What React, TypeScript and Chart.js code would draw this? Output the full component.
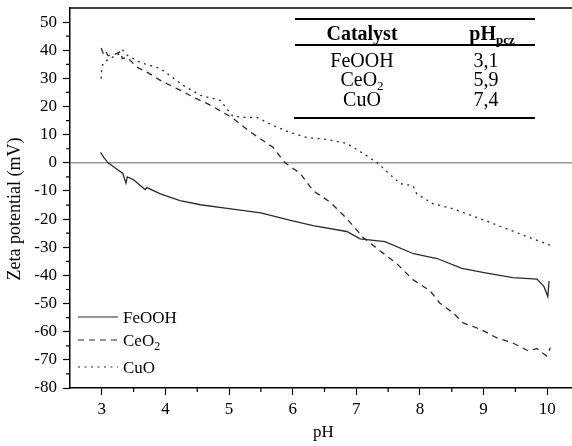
import { useEffect, useRef } from "react";
import { Chart, registerables } from "chart.js";
Chart.register(...registerables);

const FONT = "'Liberation Serif', 'Times New Roman', serif";

// FeOOH series (pH, zeta mV)
const FEOOH_PH = [2.98, 3.03, 3.1, 3.2, 3.33, 3.38, 3.4, 3.5, 3.68, 3.71, 3.92, 4.23, 4.55, 5.0, 5.5, 5.95, 6.32, 6.85, 7.06, 7.45, 7.9, 8.27, 8.66, 9.05, 9.46, 9.84, 9.95, 10.01, 10.03];
const FEOOH_ZETA = [3.7, 1.9, 0, -1.7, -3.8, -7.2, -5, -6, -9.5, -8.8, -11, -13.4, -14.9, -16.3, -17.8, -20.4, -22.3, -24.4, -27, -28, -32.3, -34, -37.5, -39.2, -40.8, -41.3, -44, -47.5, -42];

// CeO2 series
const CEO2_PH = [2.99, 3.02, 3.05, 3.1, 3.2, 3.3, 3.32, 3.4, 3.55, 3.71, 3.92, 4.23, 4.44, 4.66, 4.91, 5.07, 5.3, 5.69, 5.88, 6.12, 6.32, 6.59, 6.85, 7.11, 7.37, 7.64, 7.89, 8.16, 8.31, 8.52, 8.68, 8.94, 9.21, 9.46, 9.7, 9.84, 9.99, 10.05];
const CEO2_ZETA = [40.8, 39, 40, 38, 38.5, 39.5, 37, 37.5, 34, 32.2, 29.3, 25.8, 23.3, 21, 17.9, 15.7, 11.5, 5.5, 0, -3.8, -9.9, -14, -19.8, -26.6, -31.2, -35.9, -41.5, -45.5, -49.8, -53.3, -56.9, -59, -62.2, -64, -66.8, -66, -68.6, -65.7];

// CuO series
const CUO_PH = [2.99, 3.0, 3.03, 3.13, 3.29, 3.33, 3.4, 3.6, 3.92, 4.28, 4.55, 4.86, 5.06, 5.28, 5.44, 5.69, 5.96, 6.22, 6.54, 6.85, 7.11, 7.33, 7.58, 7.69, 7.89, 7.95, 8.2, 8.52, 8.94, 9.36, 9.73, 10.07];
const CUO_ZETA = [29.9, 34, 35.7, 37.1, 38.9, 40, 38.2, 35.7, 33.5, 27.5, 24, 22.2, 16.5, 16.1, 16.1, 13.3, 10.8, 9, 8.3, 6.9, 3.3, 0, -5.2, -7.4, -8.1, -11, -14.5, -16.3, -19.8, -23.4, -26.6, -29.5];

const X_TICKS = [3, 4, 5, 6, 7, 8, 9, 10];
const Y_TICKS = [-80, -70, -60, -50, -40, -30, -20, -10, 0, 10, 20, 30, 40, 50];

const X_TITLE = "pH";
const Y_TITLE = "Zeta potential (mV)";

const SERIES_NAMES = ["FeOOH", "CeO", "CuO"];
const SERIES_SUBS = ["", "2", ""];

const TABLE_HEAD = ["Catalyst", "pH"];
const TABLE_HEAD_SUB = "pcz";
const TABLE_CATALYST = ["FeOOH", "CeO", "CuO"];
const TABLE_CATALYST_SUB = ["", "2", ""];
const TABLE_PHPCZ = ["3,1", "5,9", "7,4"];

const LINE_COLOR = "#2b2b2b";
const DASHES: number[][] = [[], [6, 5], [2, 4.5]];

function toPoints(xs: number[], ys: number[]) {
  return xs.map((x, i) => ({ x, y: ys[i] }));
}

function midpoints(ticks: number[]) {
  const out: number[] = [];
  for (let i = 0; i < ticks.length - 1; i++) out.push((ticks[i] + ticks[i + 1]) / 2);
  return out;
}

function drawSubText(ctx: CanvasRenderingContext2D, main: string, sub: string, x: number, y: number, size: number, bold: boolean, subSize: number, align: "left" | "center") {
  const w = bold ? "bold " : "";
  ctx.font = `${w}${size}px ${FONT}`;
  const mw = ctx.measureText(main).width;
  ctx.font = `${w}${subSize}px ${FONT}`;
  const sw = sub ? ctx.measureText(sub).width : 0;
  let sx = x;
  if (align === "center") sx = x - (mw + sw) / 2;
  ctx.textAlign = "left";
  ctx.textBaseline = "alphabetic";
  ctx.font = `${w}${size}px ${FONT}`;
  ctx.fillText(main, sx, y);
  if (sub) {
    ctx.font = `${w}${subSize}px ${FONT}`;
    ctx.fillText(sub, sx + mw, y + size * 0.22);
  }
}

const overlay = {
  id: "overlay",
  beforeDatasetsDraw(chart: any) {
    const { ctx, chartArea, scales } = chart;
    const y0 = scales.y.getPixelForValue(0);
    ctx.save();
    ctx.strokeStyle = "#6a6a6a";
    ctx.lineWidth = 1;
    ctx.beginPath();
    ctx.moveTo(chartArea.left, y0);
    ctx.lineTo(chartArea.right, y0);
    ctx.stroke();
    ctx.restore();
  },
  afterDraw(chart: any) {
    const { ctx, chartArea, scales } = chart;
    ctx.save();
    // top border
    ctx.strokeStyle = "#000";
    ctx.lineWidth = 1.5;
    ctx.beginPath();
    ctx.moveTo(chartArea.left, chartArea.top);
    ctx.lineTo(chartArea.right, chartArea.top);
    ctx.stroke();
    // minor ticks
    ctx.lineWidth = 1.2;
    ctx.beginPath();
    for (const v of midpoints(X_TICKS).concat([X_TICKS[X_TICKS.length - 1] + 0.5])) {
      const px = scales.x.getPixelForValue(v);
      ctx.moveTo(px, chartArea.bottom);
      ctx.lineTo(px, chartArea.bottom + 4);
    }
    for (const v of midpoints(Y_TICKS)) {
      const py = scales.y.getPixelForValue(v);
      ctx.moveTo(chartArea.left, py);
      ctx.lineTo(chartArea.left - 4, py);
    }
    ctx.stroke();

    // y title
    ctx.fillStyle = "#000";
    ctx.save();
    ctx.translate(15.5, 209);
    ctx.rotate(-Math.PI / 2);
    ctx.font = `18px ${FONT}`;
    ctx.textAlign = "center";
    ctx.textBaseline = "middle";
    ctx.fillText(Y_TITLE, 0, 0);
    ctx.restore();

    // x title
    ctx.font = `17px ${FONT}`;
    ctx.textAlign = "center";
    ctx.textBaseline = "alphabetic";
    ctx.fillText(X_TITLE, (chartArea.left + chartArea.right) / 2 - 1, 437);

    // legend
    const legY = [317, 340, 367];
    for (let i = 0; i < 3; i++) {
      ctx.strokeStyle = LINE_COLOR;
      ctx.lineWidth = 1.2;
      ctx.setLineDash(DASHES[i]);
      ctx.beginPath();
      ctx.moveTo(78, legY[i]);
      ctx.lineTo(118, legY[i]);
      ctx.stroke();
      ctx.setLineDash([]);
      ctx.fillStyle = "#000";
      drawSubText(ctx, SERIES_NAMES[i], SERIES_SUBS[i], 123, legY[i] + 6, 17, false, 12, "left");
    }

    // table
    ctx.strokeStyle = "#000";
    ctx.lineWidth = 2;
    ctx.beginPath();
    ctx.moveTo(295, 19); ctx.lineTo(535, 19);
    ctx.moveTo(295, 45); ctx.lineTo(535, 45);
    ctx.moveTo(294, 118); ctx.lineTo(535, 118);
    ctx.stroke();
    ctx.fillStyle = "#000";
    drawSubText(ctx, TABLE_HEAD[0], "", 362, 40, 20, true, 13, "center");
    drawSubText(ctx, TABLE_HEAD[1], TABLE_HEAD_SUB, 492, 40, 20, true, 13, "center");
    const rowY = [66.5, 86, 105.5];
    for (let i = 0; i < 3; i++) {
      drawSubText(ctx, TABLE_CATALYST[i], TABLE_CATALYST_SUB[i], 362, rowY[i], 20, false, 13, "center");
      drawSubText(ctx, TABLE_PHPCZ[i], "", 486, rowY[i], 20, false, 13, "center");
    }
    ctx.restore();
  },
};

export default function App() {
  const ref = useRef<HTMLCanvasElement | null>(null);
  useEffect(() => {
    if (!ref.current) return;
    const chart = new Chart(ref.current, {
      type: "line",
      data: {
        datasets: [
          { label: "FeOOH", data: toPoints(FEOOH_PH, FEOOH_ZETA), borderColor: LINE_COLOR, borderWidth: 1.3, borderDash: DASHES[0], pointRadius: 0, tension: 0, fill: false },
          { label: "CeO2", data: toPoints(CEO2_PH, CEO2_ZETA), borderColor: LINE_COLOR, borderWidth: 1.3, borderDash: DASHES[1], pointRadius: 0, tension: 0, fill: false },
          { label: "CuO", data: toPoints(CUO_PH, CUO_ZETA), borderColor: LINE_COLOR, borderWidth: 1.3, borderDash: DASHES[2], pointRadius: 0, tension: 0, fill: false },
        ],
      },
      options: {
        animation: false,
        responsive: false,
        layout: { padding: { top: 8, right: 3, left: 0, bottom: 0 } },
        plugins: { legend: { display: false }, tooltip: { enabled: false } },
        scales: {
          x: {
            type: "linear",
            min: 2.5,
            max: 10.5,
            afterFit: (s: any) => { s.height = 58; s.paddingLeft = 0; s.paddingRight = 0; },
            afterBuildTicks: (s: any) => { s.ticks = X_TICKS.map((v) => ({ value: v })); },
            border: { display: true, color: "#000", width: 1.5 },
            grid: { display: true, drawOnChartArea: false, drawTicks: true, tickLength: 7, tickColor: "#000", tickWidth: 1.2 },
            ticks: { color: "#000", font: { family: FONT, size: 17 }, padding: 4, maxRotation: 0, autoSkip: false },
            title: { display: false },
          },
          y: {
            type: "linear",
            min: -80,
            max: 55,
            afterFit: (s: any) => { s.width = 70; s.paddingTop = 0; s.paddingBottom = 0; },
            afterBuildTicks: (s: any) => { s.ticks = Y_TICKS.map((v) => ({ value: v })); },
            border: { display: true, color: "#000", width: 1.5 },
            grid: { display: true, drawOnChartArea: false, drawTicks: true, tickLength: 7, tickColor: "#000", tickWidth: 1.2 },
            ticks: { color: "#000", font: { family: FONT, size: 17 }, padding: 6, autoSkip: false },
            title: { display: false },
          },
        },
      },
      plugins: [overlay],
    } as any);
    return () => chart.destroy();
  }, []);
  return (
    <div style={{ position: "fixed", left: 0, top: 0, width: 572, height: 446, overflow: "hidden", background: "#fff" }}>
      <canvas ref={ref} width={582} height={446} style={{ display: "block" }} />
    </div>
  );
}
